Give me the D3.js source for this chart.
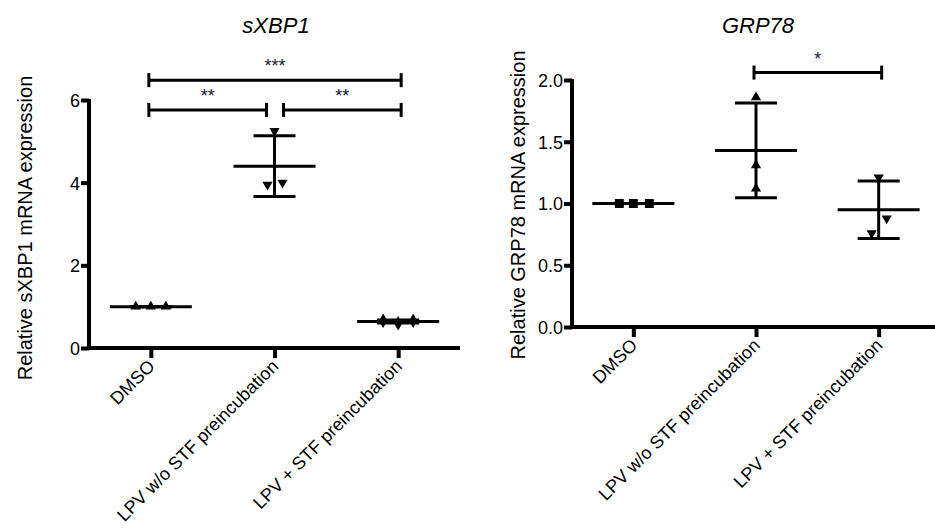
<!DOCTYPE html>
<html>
<head>
<meta charset="utf-8">
<script src="https://cdn.jsdelivr.net/npm/d3@7"></script>
<style>
  body { margin: 0; background: #fff; }
  text { font-family: 'Liberation Sans', Arial, sans-serif; }
</style>
</head>
<body>
<svg id="chart"></svg>
<script>
const width = 935,
	height = 528;

// data
const categories = [ 'DMSO', 'LPV w/o STF preincubation', 'LPV + STF preincubation' ];
const xbp1Values = [ [ 1.0, 1.0, 1.0 ], [ 5.25, 3.95, 4.0 ], [ 0.66, 0.6, 0.66 ] ];
const grp78Values = [ [ 1.0, 1.0, 1.0 ], [ 1.86, 1.31, 1.12 ], [ 1.21, 0.88, 0.76 ] ];
const xbp1Ticks = [ 0, 2, 4, 6 ];
const grp78Ticks = [ 0, 0.5, 1.0, 1.5, 2.0 ];
const xbp1Sig = [
	{ from: 0, to: 2, y: 6.48, label: '***' },
	{ from: 0, to: 1, y: 5.76, label: '**' },
	{ from: 1, to: 2, y: 5.76, label: '**' }
];
const grp78Sig = [ { from: 1, to: 2, y: 2.06, label: '*' } ];

// point spread within a column (px), as drawn by the plotting program
const xbp1Jitter = [ [ -15, 0, 15 ], [ 0, -7, 8 ], [ -15, 0, 15 ] ];
const grp78Jitter = [ [ -14, 0, 16 ], [ 0, 0, 0 ], [ 0, 8, -7 ] ];

const svg = d3.select('#chart').attr('width', width).attr('height', height);

function panel(opts) {
	const g = svg.append('g');
	const x = d3.scalePoint().domain(categories).range(opts.xRange).padding(0.5);
	const y = d3.scaleLinear().domain(opts.yDomain).range(opts.yRange);

	// axes
	const yAxis = d3.axisLeft(y).tickValues(opts.ticks).tickFormat(d3.format(opts.fmt)).tickSize(8).tickSizeOuter(0);
	const xAxis = d3.axisBottom(x).tickSize(10).tickSizeOuter(0);
	const ya = g.append('g').attr('transform', 'translate(' + opts.xRange[0] + ',0)').call(yAxis);
	const xa = g.append('g').attr('transform', 'translate(0,' + opts.yRange[0] + ')').call(xAxis);
	[ ya, xa ].forEach((a) => {
		a.select('.domain').attr('stroke', '#000').attr('stroke-width', 4);
		a.selectAll('.tick line').attr('stroke', '#000').attr('stroke-width', 4);
		a.selectAll('text').attr('fill', '#000').attr('font-family', "'Liberation Sans', Arial, sans-serif");
	});
	xa.select('.domain').attr('d', 'M' + (opts.xRange[0] - 2) + ',0H' + opts.xRange[1]);
	ya.select('.domain').attr('d', 'M0,' + (opts.yRange[0] + 2) + 'V' + (opts.yRange[1] - 1));
	ya.selectAll('text').attr('font-size', 18).attr('x', -9).attr('dy', '0.36em');
	xa
		.selectAll('text')
		.attr('font-size', 18)
		.attr('x', 0)
		.attr('y', 0)
		.attr('dy', '0.35em')
		.attr('text-anchor', 'end')
		.attr('transform', 'translate(0,15) rotate(-45)');

	// axis title and chart title
	g
		.append('text')
		.attr('transform', 'rotate(-90)')
		.attr('x', -opts.labelY)
		.attr('y', opts.labelX)
		.attr('text-anchor', 'middle')
		.attr('font-size', 20)
		.attr('fill', '#000')
		.text(opts.yLabel);
	g
		.append('text')
		.attr('x', opts.titleX)
		.attr('y', 33)
		.attr('text-anchor', 'middle')
		.attr('font-size', 22)
		.attr('font-style', 'italic')
		.attr('fill', '#000')
		.text(opts.title);

	// mean and SD bars
	opts.values.forEach((vals, i) => {
		const cx = x(categories[i]);
		const m = d3.mean(vals),
			sd = d3.deviation(vals);
		const col = g.append('g').attr('stroke', '#000').attr('stroke-width', 3);
		col.append('line').attr('x1', cx).attr('x2', cx).attr('y1', y(m - sd)).attr('y2', y(m + sd));
		[ m - sd, m + sd ].forEach((v) => {
			col.append('line').attr('x1', cx - 21).attr('x2', cx + 21).attr('y1', y(v)).attr('y2', y(v));
		});
		col.append('line').attr('x1', cx - 41).attr('x2', cx + 41).attr('y1', y(m)).attr('y2', y(m));

		const sym = opts.symbols[i];
		g
			.selectAll(null)
			.data(vals)
			.enter()
			.append('path')
			.attr('d', d3.symbol().type(sym.type).size(sym.size))
			.attr('fill', '#000')
			.attr('transform', (d, j) => 'translate(' + (cx + opts.jitter[i][j]) + ',' + y(d) + ') rotate(' + sym.rot + ')');
	});

	// significance brackets
	opts.sig.forEach((s) => {
		let x1 = x(categories[s.from]) - 2,
			x2 = x(categories[s.to]) + 3;
		opts.sig.forEach((o) => {
			if (o !== s && o.y === s.y) {
				if (o.from === s.to) x2 = x(categories[s.to]) - 8;
				if (o.to === s.from) x1 = x(categories[s.from]) + 9;
			}
		});
		const b = g.append('g').attr('stroke', '#000').attr('stroke-width', 3);
		const yy = y(s.y);
		b.append('line').attr('x1', x1).attr('x2', x2).attr('y1', yy).attr('y2', yy);
		b.append('line').attr('x1', x1).attr('x2', x1).attr('y1', yy - 7).attr('y2', yy + 7);
		b.append('line').attr('x1', x2).attr('x2', x2).attr('y1', yy - 7).attr('y2', yy + 7);
		g
			.append('text')
			.attr('x', (x1 + x2) / 2)
			.attr('y', yy - 8)
			.attr('text-anchor', 'middle')
			.attr('font-size', 18)
			.attr('fill', '#1a1a2e')
			.text(s.label);
	});
}

panel({
	xRange: [ 89, 460 ],
	yRange: [ 348, 100 ],
	yDomain: [ 0, 6 ],
	ticks: xbp1Ticks,
	fmt: 'd',
	values: xbp1Values,
	jitter: xbp1Jitter,
	sig: xbp1Sig,
	symbols: [
		{ type: d3.symbolTriangle, size: 45, rot: 0 },
		{ type: d3.symbolTriangle, size: 45, rot: 180 },
		{ type: d3.symbolDiamond, size: 60, rot: 0 }
	],
	yLabel: 'Relative sXBP1 mRNA expression',
	labelX: 32,
	labelY: 228,
	title: 'sXBP1',
	titleX: 276
});

panel({
	xRange: [ 572, 940 ],
	yRange: [ 327, 80 ],
	yDomain: [ 0, 2 ],
	ticks: grp78Ticks,
	fmt: '.1f',
	values: grp78Values,
	jitter: grp78Jitter,
	sig: grp78Sig,
	symbols: [
		{ type: d3.symbolSquare, size: 80, rot: 0 },
		{ type: d3.symbolTriangle, size: 45, rot: 0 },
		{ type: d3.symbolTriangle, size: 45, rot: 180 }
	],
	yLabel: 'Relative GRP78 mRNA expression',
	labelX: 525,
	labelY: 205,
	title: 'GRP78',
	titleX: 758
});
</script>
</body>
</html>
